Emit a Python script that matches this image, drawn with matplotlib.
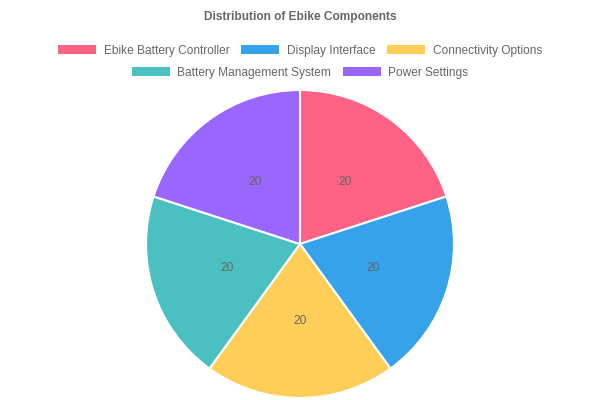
import matplotlib.pyplot as plt
from matplotlib.patches import Patch

labels = ['Ebike Battery Controller', 'Display Interface', 'Connectivity Options',
          'Battery Management System', 'Power Settings']
values = [20, 20, 20, 20, 20]
colors = ['#FF6384', '#36A2EB', '#FFCE56', '#4BC0C0', '#9966FF']

plt.rcParams['font.family'] = ['Liberation Sans', 'DejaVu Sans']

fig = plt.figure(figsize=(6, 4), dpi=100)
ax = fig.add_axes([0.2433, 0.005, 0.5133, 0.77])
wedges, texts = ax.pie(values, colors=colors, startangle=90, counterclock=False,
                       labels=[str(v) for v in values], labeldistance=0.5,
                       wedgeprops=dict(edgecolor='white', linewidth=1.5),
                       textprops=dict(color='#666666', fontsize=8.6))
for t in texts:
    t.set_ha('center')
    t.set_va('center')
ax.set_xlim(-1, 1)
ax.set_ylim(-1, 1)
ax.set_aspect('equal')

fig.text(0.5, 1 - 17 / 400, 'Distribution of Ebike Components', ha='center', va='center',
         fontsize=8.6, fontweight='bold', color='#666666')

handles = [Patch(facecolor=c, edgecolor='none') for c in colors]
common = dict(frameon=False, fontsize=8.6, handlelength=3.2, handleheight=0.8,
              handletextpad=0.6, columnspacing=1.0, labelcolor='#666666',
              borderpad=0, borderaxespad=0)
leg1 = fig.legend(handles[:3], labels[:3], ncol=3, loc='center',
                  bbox_to_anchor=(0.5, 1 - 51 / 400), **common)
leg2 = fig.legend(handles[3:], labels[3:], ncol=2, loc='center',
                  bbox_to_anchor=(0.5, 1 - 73 / 400), **common)

fig.savefig('out.png', dpi=100)
